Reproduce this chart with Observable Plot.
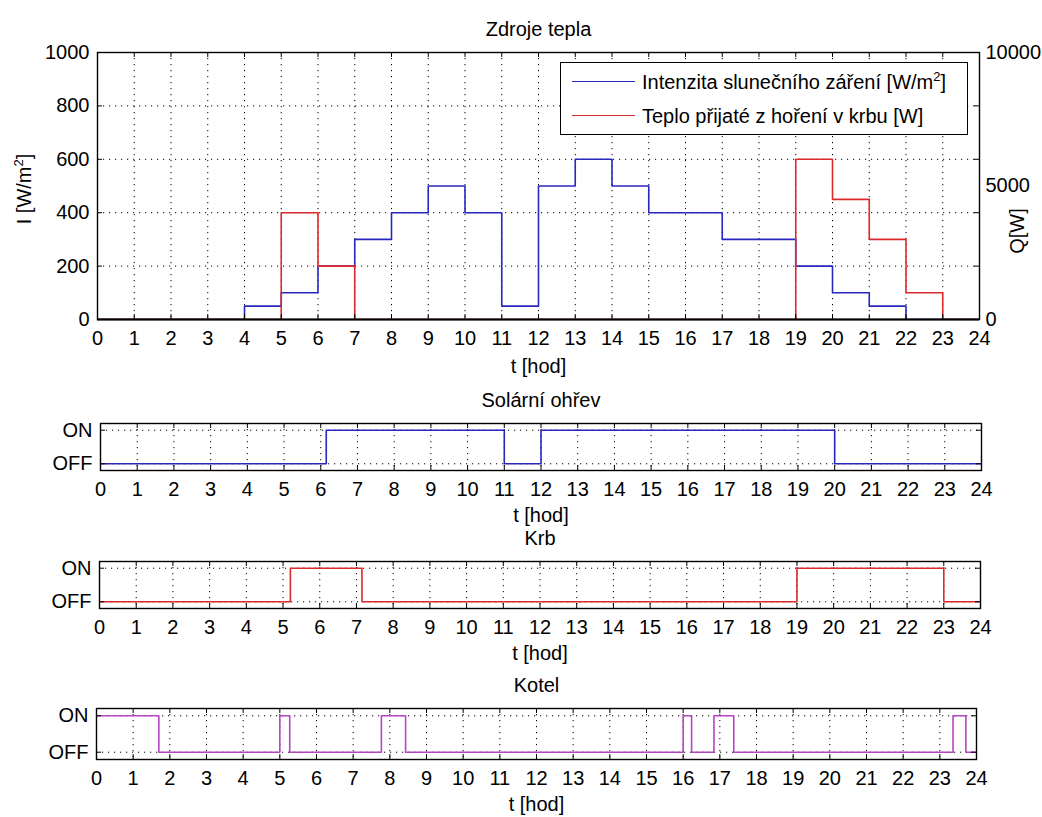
<!DOCTYPE html>
<html><head><meta charset="utf-8">
<script src="https://cdn.jsdelivr.net/npm/d3@7"></script>
<script src="https://cdn.jsdelivr.net/npm/@observablehq/plot@0.6"></script>
<style>
body{margin:0;background:#fff;}
#root{position:relative;width:1042px;height:817px;font-family:"Liberation Sans",Arial,sans-serif;background:#fff;}
#root svg{position:absolute;left:0;overflow:visible;}
.legend{position:absolute;box-sizing:border-box;border:1px solid #000;background:#fff;font-size:20px;}
.legend .ln{position:absolute;height:0;border-top:1.5px solid;}
.legend .tx{position:absolute;white-space:nowrap;line-height:22px;}
.legend sup{font-size:13px;vertical-align:top;position:relative;top:-5px;}
</style></head><body><div id="root"></div><script>
// ---- data ----
const xTicks = d3.range(0, 25);
const hourStarts = [0,1,2,3,4,5,6,7,8,9,10,11,12,13,14,15,16,17,18,19,20,21,22,23,24];
const solarIntensity = [0,0,0,0,50,100,200,300,400,500,400,50,500,600,500,400,400,300,300,200,100,50,0,0,0]; // W/m2
const fireplaceHeat  = [0,0,0,0,0,4000,2000,0,0,0,0,0,0,0,0,0,0,0,0,6000,4500,3000,1000,0,0]; // W
const iTicks = [0,200,400,600,800,1000];
const qTicks = [0,5000,10000];
const qPerI = 10;
const seriesNames = ["Intenzita slunečního záření [W/m²]", "Teplo přijaté z hoření v krbu [W]"];
const yLabelLeft = "I [W/m²]";
const yLabelRight = "Q[W]";
const stateLabels = ["OFF","ON"];
const stateTicks = [0,1];
const solarTimes = [0, 6.15, 11.0, 12.0, 20.0, 24];
const solarStates = [0, 1, 0, 1, 0, 0];
const krbTimes = [0, 5.2, 7.15, 19.0, 23.0, 24];
const krbStates = [0, 1, 0, 1, 0, 0];
const kotelTimes = [0, 1.7, 5.0, 5.27, 7.77, 8.43, 16.0, 16.23, 16.84, 17.38, 23.36, 23.71, 24];
const kotelStates = [1, 0, 1, 0, 1, 0, 1, 0, 1, 0, 1, 0, 0];
const titles = ["Zdroje tepla", "Solární ohřev", "Krb", "Kotel"];
const xLabel = "t [hod]";
const colors = {blue:"#2828c0", red:"#dc2a2a", magenta:"#b845c2"};

// ---- helpers ----
const W = 1042;
const FS = 20;
const FONT = "'Liberation Sans', Arial, sans-serif";
const root = document.getElementById("root");
const dots = {stroke:"black", strokeWidth:1, strokeDasharray:"1.2,4.8"};

function boxMarks(fw, fh, yt) {
  return [
    Plot.tickX(xTicks, {x:d=>d, insetTop: fh-5, stroke:"black"}),
    Plot.tickX(xTicks, {x:d=>d, insetBottom: fh-5, stroke:"black"}),
    Plot.tickY(yt, {y:d=>d, insetRight: fw-5, stroke:"black"}),
    Plot.tickY(yt, {y:d=>d, insetLeft: fw-5, stroke:"black"}),
    Plot.frame({stroke:"black", strokeWidth:1.4})
  ];
}
const label = (s, o) => Plot.text([s], {text:d=>d, textAnchor:"middle", lineAnchor:"middle", fontSize:FS, ...o});

// ---- top plot ----
{
  const mt=52, mb=71, ml=97, mr=63, h=390;
  const fw=W-ml-mr, fh=h-mt-mb;
  const rows = hourStarts.map((t,i)=>({t, i:solarIntensity[i], q:fireplaceHeat[i]}));
  const svg = Plot.plot({
    width:W, height:h, marginTop:mt, marginBottom:mb, marginLeft:ml, marginRight:mr,
    x:{domain:[0,24]}, y:{domain:[0,1000]},
    style:{fontSize:FS+"px", fontFamily:FONT, background:"transparent", color:"black"},
    marks:[
      Plot.ruleX(xTicks, {x:d=>d, ...dots}),
      Plot.ruleY(iTicks, {y:d=>d, ...dots}),
      Plot.line(rows, {x:"t", y:"i", curve:"step-after", stroke:colors.blue, strokeWidth:1.6, clip:true}),
      Plot.line(rows, {x:"t", y:d=>d.q/qPerI, curve:"step-after", stroke:colors.red, strokeWidth:1.6, clip:true}),
      // x-axis baseline drawn over the series (as the axes box is in the original)
      Plot.ruleY([iTicks[0]], {stroke:"black", strokeWidth:2.2}),
      ...boxMarks(fw, fh, iTicks),
      Plot.axisX(xTicks, {tickSize:0, tickPadding:11, label:null, tickFormat:d=>String(d), fontSize:FS}),
      Plot.axisY(iTicks, {anchor:"left", tickSize:0, tickPadding:8, label:null, tickFormat:d=>String(d), fontSize:FS}),
      Plot.axisY(qTicks.map(q=>q/qPerI), {anchor:"right", tickSize:0, tickPadding:6, label:null, tickFormat:d=>String(Math.round(d*qPerI)), fontSize:FS}),
      label(titles[0], {frameAnchor:"top", dy:-23}),
      label(xLabel, {frameAnchor:"bottom", dy:47}),
      label(yLabelLeft, {frameAnchor:"left", dx:-73, dy:3, rotate:-90}),
      label(yLabelRight, {frameAnchor:"right", dx:38, dy:45, rotate:-90})
    ]
  });
  svg.style.top = "0px";
  // superscript for the unit
  svg.querySelectorAll("text").forEach(t=>{
    if (t.textContent === yLabelLeft) {
      const [a,b] = yLabelLeft.split("²");
      t.textContent = "";
      const ns = "http://www.w3.org/2000/svg";
      const t1 = document.createElementNS(ns,"tspan"); t1.textContent = a;
      const t2 = document.createElementNS(ns,"tspan"); t2.textContent = "2"; t2.setAttribute("dy","-8"); t2.setAttribute("font-size","13");
      const t3 = document.createElementNS(ns,"tspan"); t3.textContent = b; t3.setAttribute("dy","8");
      t.append(t1,t2,t3);
    }
  });
  root.appendChild(svg);

  // legend
  const lg = document.createElement("div");
  lg.className = "legend";
  Object.assign(lg.style, {left:"560px", top:"62px", width:"408px", height:"73px"});
  const lc = [colors.blue, colors.red];
  seriesNames.forEach((n,k)=>{
    const y = k===0 ? 19 : 53;
    const l = document.createElement("div");
    l.className="ln"; Object.assign(l.style,{left:"11px", width:"63px", top:(y-1)+"px", borderTopColor:lc[k]});
    const t = document.createElement("div");
    t.className="tx"; Object.assign(t.style,{left:"81px", top:(y-11)+"px"});
    t.innerHTML = n.replace("²","<sup>2</sup>");
    lg.appendChild(l); lg.appendChild(t);
  });
  root.appendChild(lg);
}

// ---- state subplots ----
function statePlot({top, mt, mb, h, ml, mr, title, times, states, color}) {
  const fw=W-ml-mr, fh=h-mt-mb;
  const rows = times.map((t,i)=>({t, s:states[i]}));
  const svg = Plot.plot({
    width:W, height:h, marginTop:mt, marginBottom:mb, marginLeft:ml, marginRight:mr,
    x:{domain:[0,24]}, y:{domain:[-0.2,1.2]},
    style:{fontSize:FS+"px", fontFamily:FONT, background:"transparent", color:"black"},
    marks:[
      Plot.ruleX(xTicks, {x:d=>d, ...dots}),
      Plot.ruleY(stateTicks, {y:d=>d, ...dots}),
      Plot.line(rows, {x:"t", y:"s", curve:"step-after", stroke:color, strokeWidth:1.6}),
      ...boxMarks(fw, fh, stateTicks),
      Plot.axisX(xTicks, {tickSize:0, tickPadding:11, label:null, tickFormat:d=>String(d), fontSize:FS}),
      Plot.axisY(stateTicks, {anchor:"left", tickSize:0, tickPadding:8, label:null, tickFormat:d=>stateLabels[d], fontSize:FS}),
      label(title, {frameAnchor:"top", dy:-23}),
      label(xLabel, {frameAnchor:"bottom", dy:45})
    ]
  });
  svg.style.top = top+"px";
  root.appendChild(svg);
}
statePlot({top:380, mt:43, mb:50, h:140, ml:100, mr:61, title:titles[1], times:solarTimes, states:solarStates, color:colors.blue});
statePlot({top:520, mt:41, mb:52, h:140, ml:99, mr:62, title:titles[2], times:krbTimes, states:krbStates, color:colors.red});
statePlot({top:660, mt:48, mb:58, h:157, ml:96, mr:66, title:titles[3], times:kotelTimes, states:kotelStates, color:colors.magenta});
</script></body></html>
